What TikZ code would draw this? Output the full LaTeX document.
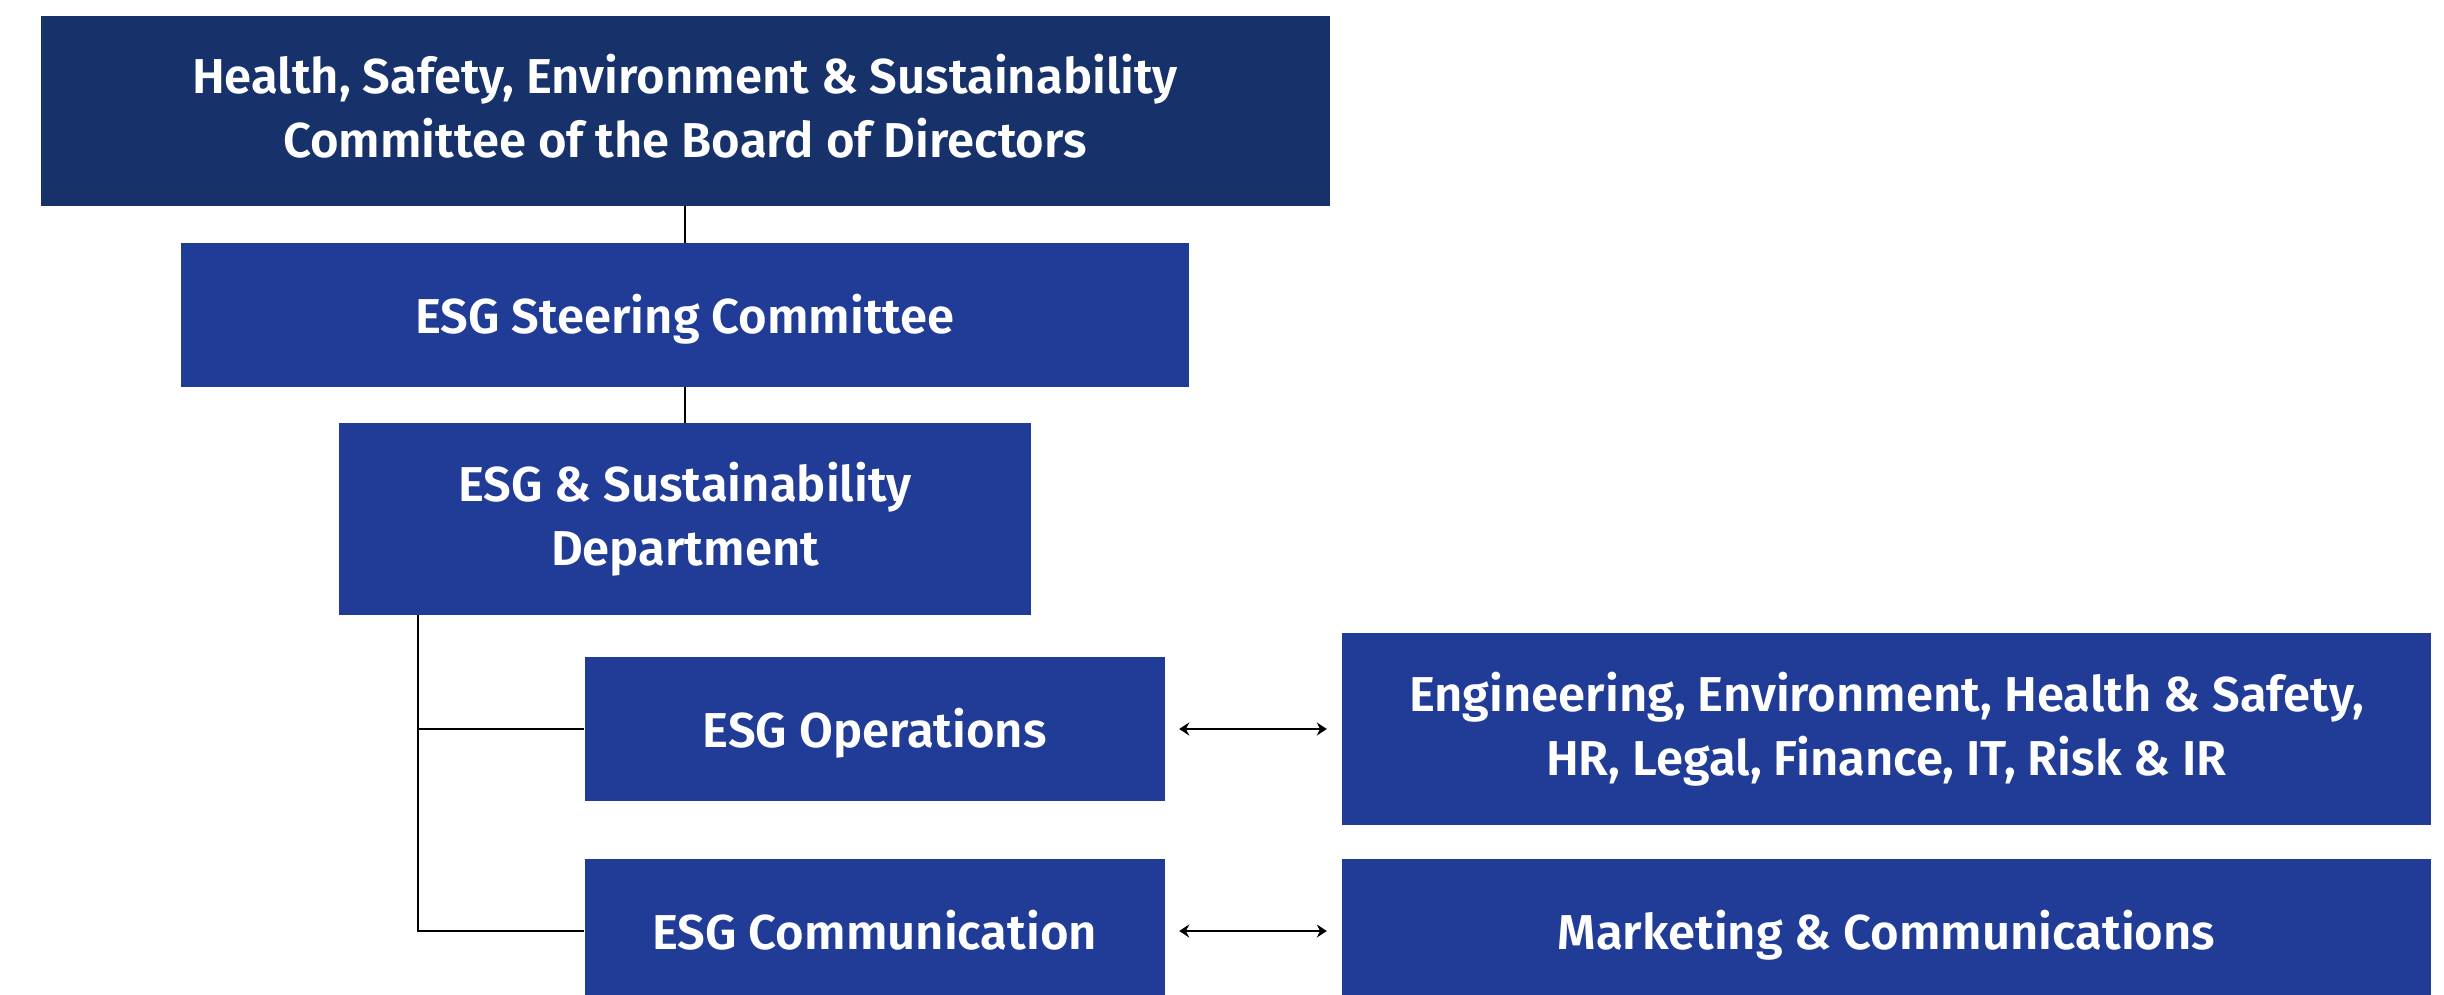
\documentclass[tikz,border=0pt]{standalone}
\usepackage{fontspec}
\setmainfont{Fira Sans}[BoldFont={Fira Sans SemiBold}]
\usetikzlibrary{arrows.meta}
\definecolor{navy}{HTML}{17326B}
\definecolor{esgblue}{HTML}{213C97}
\tikzset{
  x=1pt, y=-1pt,
  boxtext/.style={text=white, align=center, inner sep=0pt,
    font=\fontsize{49}{64}\selectfont\bfseries},
  box/.style={fill=#1, draw=none, boxtext},
  box/.default=esgblue,
  oneline/.style={text height=41pt, text depth=5pt},
  link/.style={draw=black, line width=2.2pt},
  twoway/.style={draw=black, line width=1.8pt, {Stealth[length=10pt,width=13pt]}-{Stealth[length=10pt,width=13pt]}}
}
\begin{document}
\begin{tikzpicture}
\useasboundingbox (0,0) rectangle (2444,994);
\begin{scope}
\clip (0,0) rectangle (2444,994);
\node[box=navy, minimum width=1289pt, minimum height=190pt,
  label={[boxtext, yshift=4.6pt]center:{Health, Safety, Environment \& Sustainability\\Committee of the Board of Directors}}] (top) at (685,110.6) {};
\node[box, oneline, minimum width=1008pt, minimum height=144pt] (steer) at (685,315) {ESG Steering Committee};
\node[box, minimum width=692pt, minimum height=192pt] (dept) at (685,519) {ESG \& Sustainability\\Department};
\node[box, oneline, minimum width=580.5pt, minimum height=144pt] (ops) at (874.75,729) {ESG Operations};
\node[box, oneline, minimum width=580.5pt, minimum height=144pt] (comm) at (874.75,931) {ESG Communication};
\node[box, minimum width=1089pt, minimum height=192pt] (eng) at (1886.5,729)
  {Engineering, Environment, Health \& Safety,\\HR, Legal, Finance, IT, Risk \& IR};
\node[box, oneline, minimum width=1089pt, minimum height=144pt] (mkt) at (1886.5,931) {Marketing \& Communications};
\end{scope}
\coordinate (trunk) at ([xshift=79pt]dept.south west);
\draw[link] (top.south) -- (steer.north);
\draw[link] (steer.south) -- (dept.north);
\draw[link] (trunk) |- (comm.west);
\draw[link] (trunk |- ops.west) -- (ops.west);
\draw[twoway] ([xshift=14pt]ops.east) -- ([xshift=-15pt]eng.west);
\draw[twoway] ([xshift=14pt]comm.east) -- ([xshift=-15pt]mkt.west);
\end{tikzpicture}
\end{document}
